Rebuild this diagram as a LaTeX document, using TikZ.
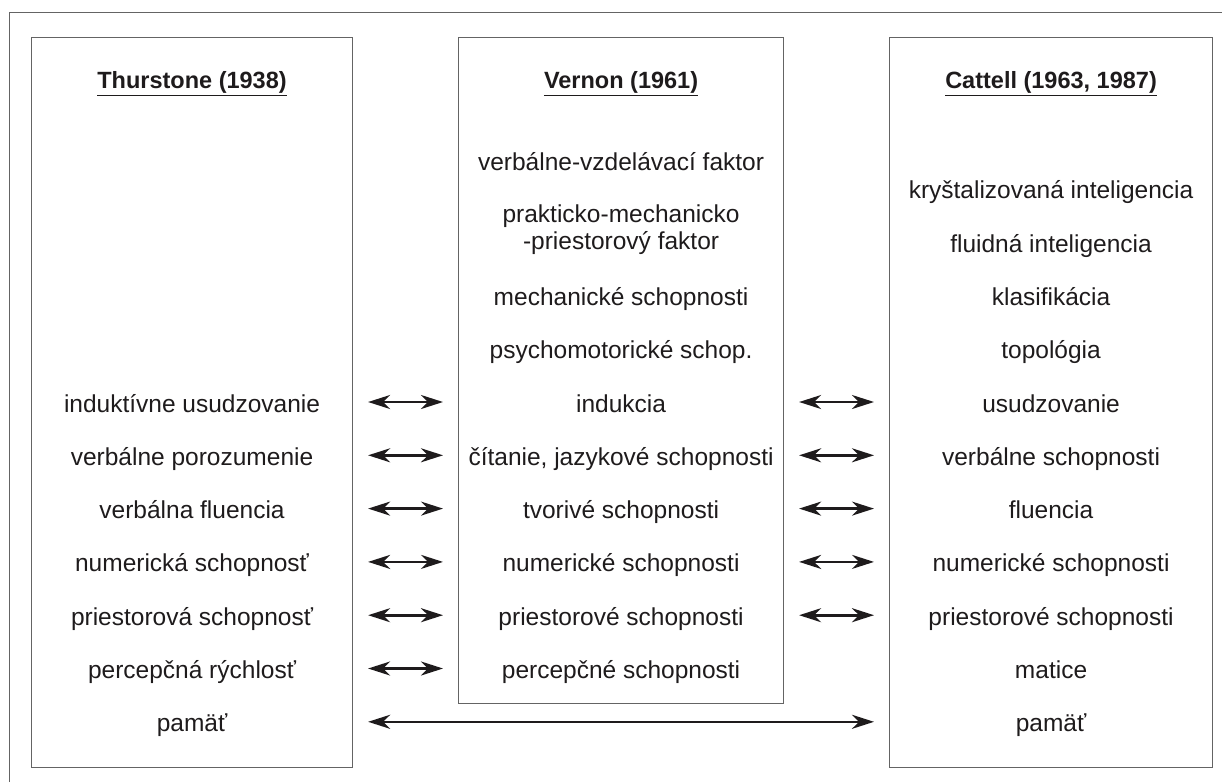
\documentclass[tikz,border=0pt]{standalone}
\usepackage{fontspec}
\setmainfont{Liberation Sans}
\usepackage{xcolor}
\usepackage{tikz}
\usetikzlibrary{arrows.meta,positioning,calc}
\definecolor{inkgray}{RGB}{30,27,28}
\definecolor{rulegray}{RGB}{100,100,100}

\begin{document}
\begin{tikzpicture}[
    x=1pt, y=-1pt,
    node distance=53.3pt, on grid,
    frame/.style={draw=rulegray, line width=1.1pt},
    column/.style={frame, minimum height=730.5, anchor=north west, inner sep=0pt},
    head/.style={font=\fontsize{23.5}{27}\selectfont\bfseries, text=inkgray,
                 anchor=base, inner sep=0pt, text depth=7pt},
    item/.style={font=\fontsize{24.5}{27}\selectfont, text=inkgray, align=center,
                 text height=22pt, text depth=2pt, inner sep=0pt},
    uline/.style={draw=inkgray, line width=1.4pt},
    arr/.style={<->, >={Stealth[length=22pt,width=14pt,inset=7pt]},
                line width=2.6pt, draw=inkgray}
]
    \useasboundingbox (0,0) rectangle (1222,782);

    % Outer frame (top and left only)
    \draw[frame] (9.5,782) -- (9.5,12.5) -- (1222,12.5);

    % Columns
    \node[column, minimum width=321] (thurstone) at (31,36.5) {};
    \node[column, minimum width=325, minimum height=666.5] (vernon) at (458,36.5) {};
    \node[column, minimum width=323] (cattell) at (889,36.5) {};

    % Headings
    \node[head] (thead) at (thurstone.north |- 0,88) {Thurstone (1938)};
    \node[head] (vhead) at (vernon.north |- 0,88) {Vernon (1961)};
    \node[head] (chead) at (cattell.north |- 0,88) {Cattell (1963, 1987)};
    \draw[uline] (thead.south west) -- (thead.south east);
    \draw[uline] (vhead.south west) -- (vhead.south east);
    \draw[uline] (chead.south west) -- (chead.south east);

    % Thurstone
    \node[item] (l1) at (thurstone.north |- 0,402) {induktívne usudzovanie};
    \node[item, below=of l1] (l2) {verbálne porozumenie};
    \node[item, below=of l2] (l3) {verbálna fluencia};
    \node[item, below=of l3] (l4) {numerická schopnosť};
    \node[item, below=of l4] (l5) {priestorová schopnosť};
    \node[item, below=of l5] (l6) {percepčná rýchlosť};
    \node[item, below=of l6] (l7) {pamäť};

    % Vernon
    \node[item] (vfactor) at (vernon.north |- 0,160) {verbálne-vzdelávací faktor};
    \node[item, text height=, text depth=] (pfactor) at (vernon.north |- 0,229.5)
        {prakticko-mechanicko\\-priestorový faktor};
    \node[item] (m1) at (vernon.north |- l1) {indukcia};
    \node[item, above=of m1] (psycho) {psychomotorické schop.};
    \node[item, above=of psycho] (mech) {mechanické schopnosti};
    \node[item, below=of m1] (m2) {čítanie, jazykové schopnosti};
    \node[item, below=of m2] (m3) {tvorivé schopnosti};
    \node[item, below=of m3] (m4) {numerické schopnosti};
    \node[item, below=of m4] (m5) {priestorové schopnosti};
    \node[item, below=of m5] (m6) {percepčné schopnosti};

    % Cattell
    \node[item] (r1) at (cattell.north |- l1) {usudzovanie};
    \node[item, above=of r1] (topo) {topológia};
    \node[item, above=of topo] (klas) {klasifikácia};
    \node[item, above=of klas] (fluid) {fluidná inteligencia};
    \node[item, above=of fluid] (kryst) {kryštalizovaná inteligencia};
    \node[item, below=of r1] (r2) {verbálne schopnosti};
    \node[item, below=of r2] (r3) {fluencia};
    \node[item, below=of r3] (r4) {numerické schopnosti};
    \node[item, below=of r4] (r5) {priestorové schopnosti};
    \node[item, below=of r5] (r6) {matice};
    \node[item, below=of r6] (r7) {pamäť};

    % Arrows Thurstone - Vernon
    \draw[arr] ($(thurstone.east |- l1)+(15,0)$) -- ($(vernon.west |- m1)+(-15,0)$);
    \draw[arr] ($(thurstone.east |- l2)+(15,0)$) -- ($(vernon.west |- m2)+(-15,0)$);
    \draw[arr] ($(thurstone.east |- l3)+(15,0)$) -- ($(vernon.west |- m3)+(-15,0)$);
    \draw[arr] ($(thurstone.east |- l4)+(15,0)$) -- ($(vernon.west |- m4)+(-15,0)$);
    \draw[arr] ($(thurstone.east |- l5)+(15,0)$) -- ($(vernon.west |- m5)+(-15,0)$);
    \draw[arr] ($(thurstone.east |- l6)+(15,0)$) -- ($(vernon.west |- m6)+(-15,0)$);

    % Arrows Vernon - Cattell
    \draw[arr] ($(vernon.east |- m1)+(15,0)$) -- ($(cattell.west |- r1)+(-15,0)$);
    \draw[arr] ($(vernon.east |- m2)+(15,0)$) -- ($(cattell.west |- r2)+(-15,0)$);
    \draw[arr] ($(vernon.east |- m3)+(15,0)$) -- ($(cattell.west |- r3)+(-15,0)$);
    \draw[arr] ($(vernon.east |- m4)+(15,0)$) -- ($(cattell.west |- r4)+(-15,0)$);
    \draw[arr] ($(vernon.east |- m5)+(15,0)$) -- ($(cattell.west |- r5)+(-15,0)$);

    % Arrow Thurstone - Cattell
    \draw[arr] ($(thurstone.east |- l7)+(15,0)$) -- ($(cattell.west |- r7)+(-15,0)$);
\end{tikzpicture}
\end{document}
